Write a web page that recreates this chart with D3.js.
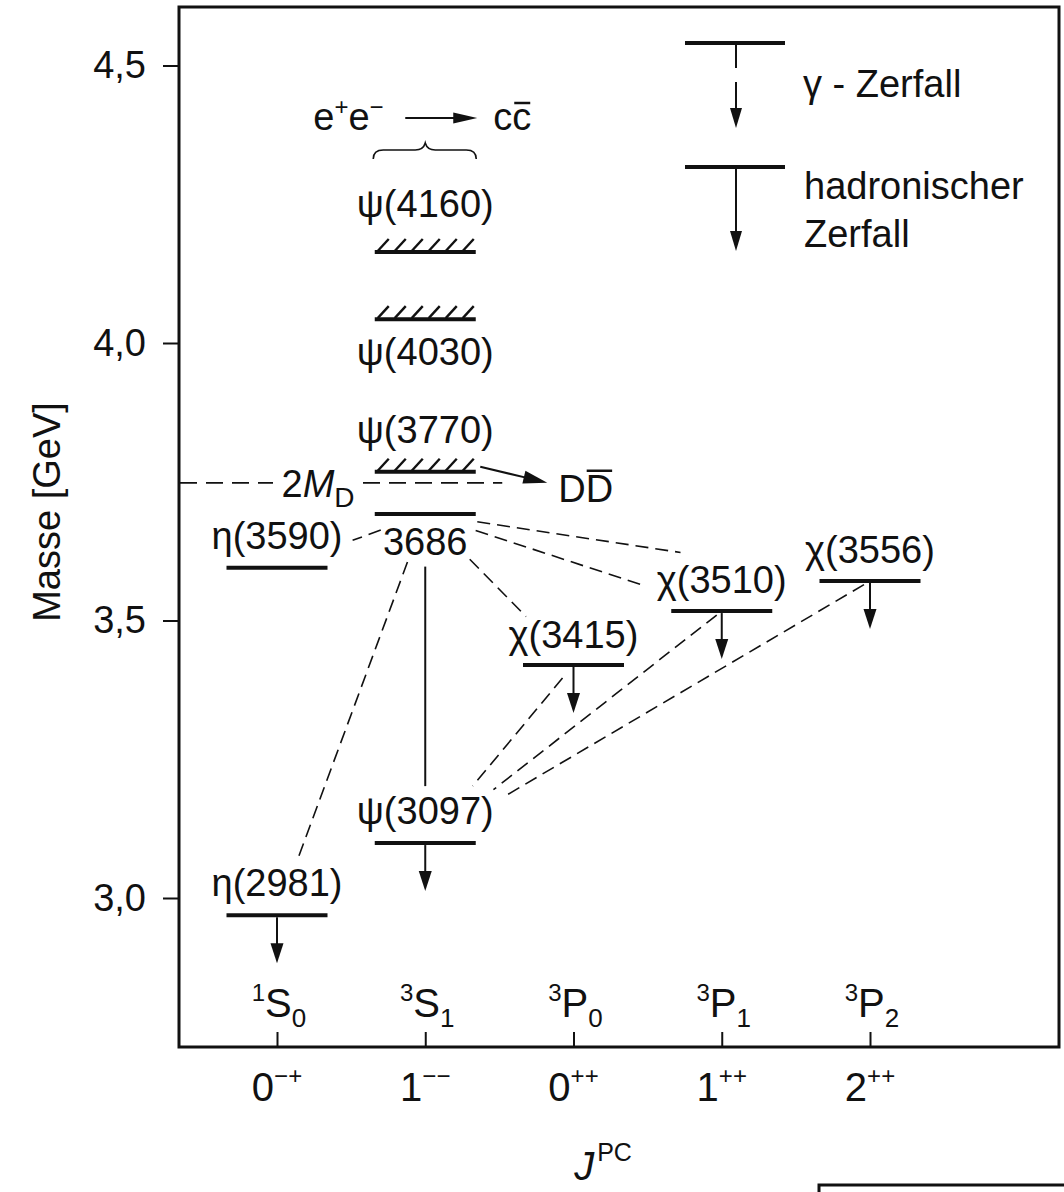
<!DOCTYPE html>
<html><head><meta charset="utf-8">
<script src="https://cdn.jsdelivr.net/npm/d3@7"></script>
<style>
body{margin:0;background:#fff}
svg{display:block}
text{font-family:"Liberation Sans",Arial,sans-serif;fill:#111}
</style>
</head><body>
<svg id="c" width="1064" height="1192"></svg>
<script>
// ---------------- data ----------------
const columns    = [0, 1, 2, 3, 4];
const jpcBase    = ["0", "1", "0", "1", "2"];
const jpcSup     = ["\u2212+", "\u2212\u2212", "++", "++", "++"];
const termSup    = ["1", "3", "3", "3", "3"];
const termLetter = ["S", "S", "P", "P", "P"];
const termSub    = ["0", "1", "0", "1", "2"];

const yTicks = [3.0, 3.5, 4.0, 4.5];

const stateIds     = ["etac", "jpsi", "chi0", "chi1", "chi2", "etac2", "psi2s", "psi3770", "psi4030", "psi4160"];
const stateSymbol  = ["\u03B7", "\u03C8", "\u03C7", "\u03C7", "\u03C7", "\u03B7", "", "\u03C8", "\u03C8", "\u03C8"];
const stateMass    = ["2981", "3097", "3415", "3510", "3556", "3590", "3686", "3770", "4030", "4160"];
const stateColumn  = [0, 1, 2, 3, 4, 0, 1, 1, 1, 1];
const stateLevel   = [2.969, 3.099, 3.420, 3.517, 3.571, 3.595, 3.692, 3.768, 4.043, 4.164]; // GeV (as drawn)
const stateBroad   = [false, false, false, false, false, false, false, true, true, true];
const stateHadDecay= [true, true, true, true, true, false, false, false, false, false];

const gammaFrom = ["psi2s", "psi2s", "psi2s", "psi2s", "psi2s", "chi0", "chi1", "chi2"];
const gammaTo   = ["etac2", "etac", "chi0", "chi1", "chi2", "jpsi", "jpsi", "jpsi"];
const pipiFrom  = ["psi2s"];
const pipiTo    = ["jpsi"];

const thresholdMass = 3.748; // 2 M_D

// ---------------- layout ----------------
const FONT = "'Liberation Sans',Arial,sans-serif";
const FS = 38;
const frame = {left: 179, top: 7, right: 1059, bottom: 1047};
const x = d3.scaleLinear().domain([0, 4]).range([277, 870]);
const y = d3.scaleLinear().domain([3.0, 4.5]).range([898, 65.5]);
const halfBar = 50.5;

const svg = d3.select("#c");
const ink = "#111";

function arrow(parent, x1, y1, x2, y2, headLen, headW, sw) {
  const dx = x2 - x1, dy = y2 - y1, L = Math.hypot(dx, dy);
  const ux = dx / L, uy = dy / L;
  const bx = x2 - ux * headLen, by = y2 - uy * headLen;
  parent.append("line").attr("x1", x1).attr("y1", y1).attr("x2", bx + ux * 2).attr("y2", by + uy * 2)
    .attr("stroke", ink).attr("stroke-width", sw || 2);
  const px = -uy, py = ux;
  parent.append("path")
    .attr("d", `M${x2},${y2}L${bx + px * headW / 2},${by + py * headW / 2}L${bx - px * headW / 2},${by - py * headW / 2}Z`)
    .attr("fill", ink);
}

// frame
svg.append("rect")
  .attr("x", frame.left).attr("y", frame.top)
  .attr("width", frame.right - frame.left).attr("height", frame.bottom - frame.top)
  .attr("fill", "none").attr("stroke", ink).attr("stroke-width", 3);

// y axis
const yAxis = d3.axisLeft(y).tickValues(yTicks)
  .tickFormat(d => d3.format(".1f")(d).replace(".", ","))
  .tickSize(16).tickPadding(17);
const ya = svg.append("g").attr("transform", `translate(${frame.left},0)`).call(yAxis);
ya.select(".domain").remove();
ya.selectAll(".tick line").attr("stroke", ink).attr("stroke-width", 2);
ya.selectAll(".tick text").attr("font-size", FS).attr("font-family", FONT).attr("fill", ink);

svg.append("text")
  .attr("transform", `translate(60,512) rotate(-90)`)
  .attr("text-anchor", "middle").attr("font-size", FS)
  .text("Masse [GeV]");

// x axis (ticks pointing inward)
const xAxis = d3.axisBottom(x).tickValues(columns).tickSize(-15).tickFormat("");
const xa = svg.append("g").attr("transform", `translate(0,${frame.bottom})`).call(xAxis);
xa.select(".domain").remove();
xa.selectAll(".tick line").attr("stroke", ink).attr("stroke-width", 2);

// J^PC labels below axis
columns.forEach((c, i) => {
  const t = svg.append("text").attr("x", x(c)).attr("y", 1101)
    .attr("text-anchor", "middle").attr("font-size", 40);
  t.append("tspan").text(jpcBase[i]);
  t.append("tspan").attr("font-size", 24).attr("dy", -17).text(jpcSup[i]);
});
// spectroscopic term labels above axis
columns.forEach((c, i) => {
  const t = svg.append("text").attr("x", x(c) + 2).attr("y", 1017)
    .attr("text-anchor", "middle").attr("font-size", 40);
  t.append("tspan").attr("font-size", 24).attr("dy", -16).text(termSup[i]);
  t.append("tspan").attr("dy", 16).text(termLetter[i]);
  t.append("tspan").attr("font-size", 26).attr("dy", 10).text(termSub[i]);
});
// axis title
{
  const t = svg.append("text").attr("x", 603).attr("y", 1180)
    .attr("text-anchor", "middle").attr("font-size", 40);
  t.append("tspan").attr("font-style", "italic").text("J");
  t.append("tspan").attr("font-size", 25).attr("dy", -19).attr("dx", 3).text("PC");
}

// ---------------- states ----------------
const states = stateIds.map((id, i) => ({
  id, sym: stateSymbol[i], mass: stateMass[i], col: stateColumn[i],
  lev: stateLevel[i], broad: stateBroad[i], had: stateHadDecay[i],
  cx: x(stateColumn[i]), cy: y(stateLevel[i])
}));
const byId = Object.fromEntries(states.map(s => [s.id, s]));

const labelDy = {etac: -19, jpsi: -19, chi0: -17, chi1: -18, chi2: -18, etac2: -19,
                 psi2s: 41, psi3770: -29, psi4030: 46, psi4160: -35};

const lev = svg.append("g");
states.forEach(s => {
  lev.append("line").attr("x1", s.cx - halfBar).attr("x2", s.cx + halfBar)
    .attr("y1", s.cy).attr("y2", s.cy).attr("stroke", ink).attr("stroke-width", 4);
  if (s.broad) {
    for (let k = 0; k < 6; k++) {
      const hx = s.cx - halfBar + 3 + k * 17;
      lev.append("line").attr("x1", hx).attr("y1", s.cy - 1).attr("x2", hx + 11).attr("y2", s.cy - 13)
        .attr("stroke", ink).attr("stroke-width", 2.4);
    }
  }
  const t = lev.append("text").attr("x", s.cx).attr("y", s.cy + labelDy[s.id])
    .attr("text-anchor", "middle").attr("font-size", FS);
  t.text(s.sym ? `${s.sym}(${s.mass})` : s.mass);
  if (s.had) arrow(lev, s.cx, s.cy + 2, s.cx, s.cy + 48, 20, 13, 2);
});

// ---------------- transitions ----------------
const trim = {
  "psi2s-etac2": [0.30, 0.49], "psi2s-etac": [0.12, 0.86], "psi2s-chi0": [0.30, 0.68],
  "psi2s-chi1": [0.17, 0.73], "psi2s-chi2": [0.117, 0.574], "chi0-jpsi": [0.074, 0.68],
  "chi1-jpsi": [0.017, 0.77], "chi2-jpsi": [0.0135, 0.824], "psi2s-jpsi": [0.16, 0.827]
};
function seg(a, b) {
  const A = byId[a], B = byId[b], t = trim[a + "-" + b];
  return [A.cx + (B.cx - A.cx) * t[0], A.cy + (B.cy - A.cy) * t[0],
          A.cx + (B.cx - A.cx) * t[1], A.cy + (B.cy - A.cy) * t[1]];
}
const tr = svg.append("g");
gammaFrom.forEach((f, i) => {
  const p = seg(f, gammaTo[i]);
  tr.append("line").attr("x1", p[0]).attr("y1", p[1]).attr("x2", p[2]).attr("y2", p[3])
    .attr("stroke", ink).attr("stroke-width", 1.6).attr("stroke-dasharray", "13,7");
});
pipiFrom.forEach((f, i) => {
  const p = seg(f, pipiTo[i]);
  tr.append("line").attr("x1", p[0]).attr("y1", p[1]).attr("x2", p[2]).attr("y2", p[3])
    .attr("stroke", ink).attr("stroke-width", 2);
});

// 2 M_D threshold
{
  const ty = y(thresholdMass);
  const lx = x(0) + 41;
  tr.append("line").attr("x1", frame.left + 1).attr("x2", lx - 45).attr("y1", ty).attr("y2", ty)
    .attr("stroke", ink).attr("stroke-width", 1.6).attr("stroke-dasharray", "17,9");
  tr.append("line").attr("x1", lx + 45).attr("x2", x(1) + 77).attr("y1", ty).attr("y2", ty)
    .attr("stroke", ink).attr("stroke-width", 1.6).attr("stroke-dasharray", "17,9");
  const t = tr.append("text").attr("x", lx).attr("y", ty + 14).attr("text-anchor", "middle").attr("font-size", FS);
  t.append("tspan").text("2");
  t.append("tspan").attr("font-style", "italic").text("M");
  t.append("tspan").attr("font-size", 28).attr("dy", 10).text("D");

  // psi(3770) -> D Dbar
  const s = byId.psi3770;
  arrow(tr, s.cx + 55, s.cy - 5, s.cx + 122, s.cy + 11, 24, 13, 2);
  const dd = tr.append("text").attr("x", s.cx + 133).attr("y", s.cy + 30).attr("font-size", FS).text("DD");
  const e = dd.node().getExtentOfChar(1);
  tr.append("line").attr("x1", e.x + 1).attr("x2", e.x + e.width - 1).attr("y1", e.y + 3).attr("y2", e.y + 3)
    .attr("stroke", ink).attr("stroke-width", 2.5);
}

// e+e- -> c cbar with brace
{
  const s = byId.psi4160;
  const t = svg.append("text").attr("x", s.cx - 112).attr("y", 130).attr("font-size", FS);
  t.append("tspan").text("e");
  t.append("tspan").attr("font-size", 24).attr("dy", -15).text("+");
  t.append("tspan").attr("dy", 15).text("e");
  t.append("tspan").attr("font-size", 24).attr("dy", -15).text("\u2212");
  arrow(svg, s.cx - 20, 118, s.cx + 52, 118, 24, 11, 2);
  const cc = svg.append("text").attr("x", s.cx + 68).attr("y", 130).attr("font-size", FS).text("cc");
  const e = cc.node().getExtentOfChar(1);
  svg.append("line").attr("x1", e.x + 2).attr("x2", e.x + e.width - 1).attr("y1", e.y + 7).attr("y2", e.y + 7)
    .attr("stroke", ink).attr("stroke-width", 2.5);
  const l = s.cx - 52, r = s.cx + 51, b = 159, m = 150, c = s.cx, top = 143;
  svg.append("path")
    .attr("d", `M${l},${b} Q${l},${m} ${l + 10},${m} L${c - 10},${m} Q${c - 2},${m} ${c},${top} Q${c + 2},${m} ${c + 10},${m} L${r - 10},${m} Q${r},${m} ${r},${b}`)
    .attr("fill", "none").attr("stroke", ink).attr("stroke-width", 1.6);
}

// ---------------- legend ----------------
{
  const lg = svg.append("g");
  const ax = 736;
  lg.append("line").attr("x1", 685).attr("x2", 785).attr("y1", 43).attr("y2", 43).attr("stroke", ink).attr("stroke-width", 4);
  lg.append("line").attr("x1", ax).attr("x2", ax).attr("y1", 43).attr("y2", 68).attr("stroke", ink).attr("stroke-width", 2);
  arrow(lg, ax, 82, ax, 128, 20, 12, 2);
  lg.append("text").attr("x", 803).attr("y", 97).attr("font-size", FS).text("\u03B3 - Zerfall");

  lg.append("line").attr("x1", 685).attr("x2", 785).attr("y1", 167).attr("y2", 167).attr("stroke", ink).attr("stroke-width", 4);
  arrow(lg, ax, 167, ax, 251, 20, 12, 2);
  lg.append("text").attr("x", 804).attr("y", 199).attr("font-size", FS).text("hadronischer");
  lg.append("text").attr("x", 804).attr("y", 247).attr("font-size", FS).text("Zerfall");
}

// bottom-right box fragment
svg.append("rect").attr("x", 819).attr("y", 1185).attr("width", 300).attr("height", 40)
  .attr("fill", "none").attr("stroke", ink).attr("stroke-width", 3);
</script>
</body></html>
